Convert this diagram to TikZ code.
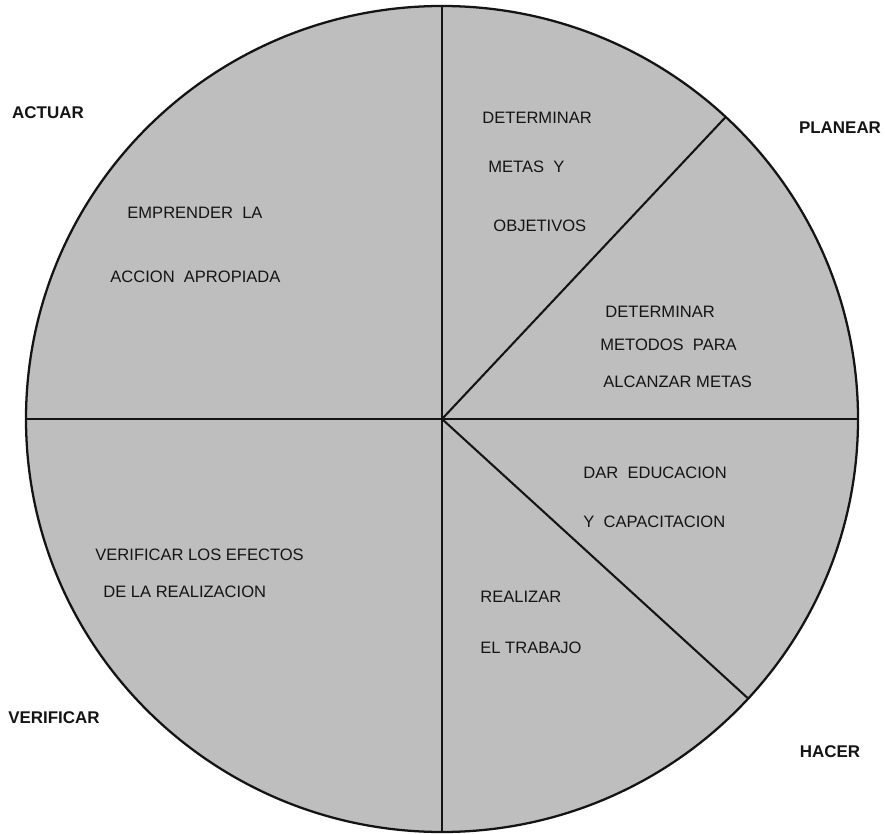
\documentclass[tikz,border=0pt]{standalone}
\usepackage{fontspec}
\setmainfont{Liberation Sans}
\usetikzlibrary{calc}
\definecolor{ink}{RGB}{20,20,20}
\definecolor{dots}{RGB}{190,190,190}
\tikzset{
  disc/.style={draw=ink,line width=1.1pt,fill=dots},
  cut/.style={draw=ink,line width=1pt},
  phase/.style={font=\fontsize{8.2}{10}\selectfont\bfseries,text=ink,inner sep=0pt},
  task/.style={font=\fontsize{8}{10}\selectfont,text=ink,anchor=west,inner sep=0pt},
}
\begin{document}
\begin{tikzpicture}[x=0.017cm,y=0.017cm]
\useasboundingbox (0,0) rectangle (885,833);
% disc
\coordinate (c) at (442,414);
\draw[disc] (c) ellipse [x radius=416,y radius=413];
\coordinate (top) at ($(c)+(0,413)$);
\coordinate (bot) at ($(c)+(0,-413)$);
\coordinate (lft) at ($(c)+(-416,0)$);
\coordinate (rgt) at ($(c)+(416,0)$);
\coordinate (ne) at ($(c)+(47:416 and 413)$);
\coordinate (se) at ($(c)+(-42.6:416 and 413)$);
% cuts
\draw[cut] (top) -- (bot);
\draw[cut] (lft) -- (rgt);
\draw[cut] (c) -- (ne);
\draw[cut] (c) -- (se);

% phases
\node[phase] (act) at (48,720) {ACTUAR};
\node[phase] (plan) at (840,705) {PLANEAR};
\node[phase] (ver) at (54,115) {VERIFICAR};
\node[phase] (hac) at (830,81) {HACER};

% tasks
\node[task] (t1a) at (482,715) {DETERMINAR};
\node[task] (t1b) at (488,666) {METAS\ \ Y};
\node[task] (t1c) at (493,607) {OBJETIVOS};
\node[task] (t2a) at (605,521) {DETERMINAR};
\node[task] (t2b) at (600,488) {METODOS\ \ PARA};
\node[task] (t2c) at (603,451) {ALCANZAR METAS};
\node[task] (t3a) at (583,360) {DAR\ \ EDUCACION};
\node[task] (t3b) at (583,311) {Y\ \ CAPACITACION};
\node[task] (t4a) at (480,236) {REALIZAR};
\node[task] (t4b) at (480,185) {EL TRABAJO};
\node[task] (t5a) at (95,278) {VERIFICAR LOS EFECTOS};
\node[task] (t5b) at (103,241) {DE LA REALIZACION};
\node[task] (t6a) at (127,620) {EMPRENDER\ \ LA};
\node[task] (t6b) at (110,556) {ACCION\ \ APROPIADA};
\end{tikzpicture}
\end{document}
